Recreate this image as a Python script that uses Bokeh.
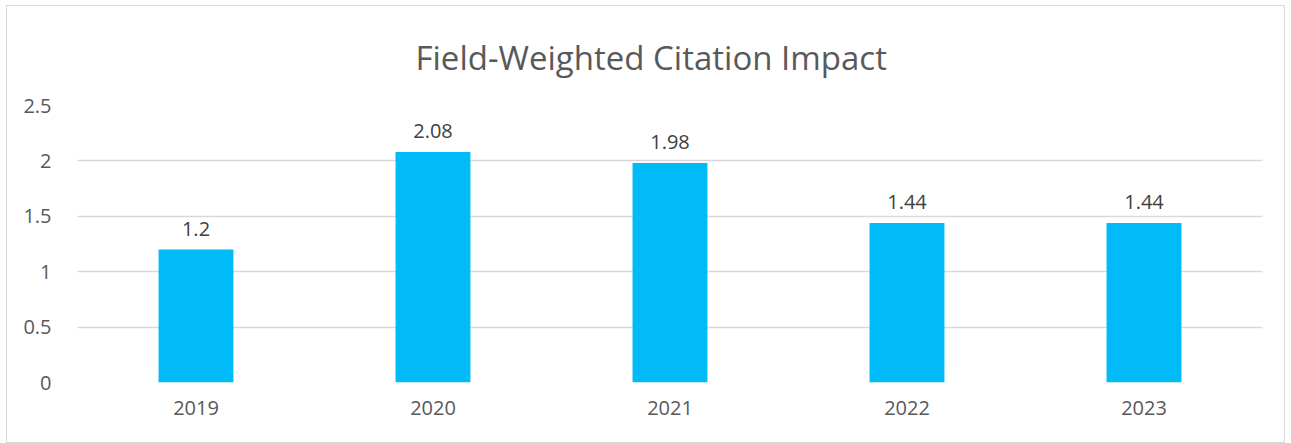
from bokeh.plotting import figure
from bokeh.models import ColumnDataSource, FixedTicker, Title
from bokeh.core.properties import value
from bokeh.embed import file_html
from bokeh.resources import INLINE

years = ["2019", "2020", "2021", "2022", "2023"]
fwci = [1.2, 2.08, 1.98, 1.44, 1.44]
fwci_labels = ["1.2", "2.08", "1.98", "1.44", "1.44"]
y_ticks = [0, 0.5, 1, 1.5, 2, 2.5]
y_tick_labels = {0: "0", 0.5: "0.5", 1: "1", 1.5: "1.5", 2: "2", 2.5: "2.5"}
title_text = "Field-Weighted Citation Impact"

FONT = "Open Sans"
TXT = "#595959"

src = ColumnDataSource(dict(year=years, val=fwci, lab=fwci_labels))

p = figure(x_range=years, y_range=(0, 2.5), width=1279, height=438,
           output_backend="svg", toolbar_location=None,
           min_border_left=70, min_border_right=24, min_border_top=99,
           min_border_bottom=62)
p.styles = {"border": "1px solid #D9D9D9", "margin-left": "6px",
            "margin-top": "5px"}
p.outline_line_color = None
p.background_fill_color = "white"
p.border_fill_color = "white"

t = Title(text=title_text, align="left", offset=338,
          text_font=FONT, text_font_size="33px", text_font_style="normal",
          text_color=TXT, standoff=52)
p.add_layout(t, "above")

p.vbar(x="year", top="val", width=0.316, source=src, color="#00BBF7",
       line_color=None)
p.text(x="year", y="val", text="lab", source=src, text_align="center",
       text_baseline="bottom", y_offset=-14, text_font=value(FONT),
       text_font_size="20px", text_color="#404040")

p.yaxis.ticker = FixedTicker(ticks=y_ticks)
p.yaxis.major_label_overrides = y_tick_labels
for ax in (p.xaxis, p.yaxis):
    ax.axis_line_color = None
    ax.major_tick_line_color = None
    ax.minor_tick_line_color = None
    ax.major_label_text_font = FONT
    ax.major_label_text_font_size = "20px"
    ax.major_label_text_color = TXT
p.yaxis.major_label_standoff = 20
p.xaxis.major_label_standoff = 12

p.xgrid.grid_line_color = None
p.ygrid.grid_line_color = "#D9D9D9"
p.ygrid.grid_line_width = 1.3
p.ygrid.ticker = FixedTicker(ticks=y_ticks)

open("out.html", "w").write(file_html(p, INLINE))
